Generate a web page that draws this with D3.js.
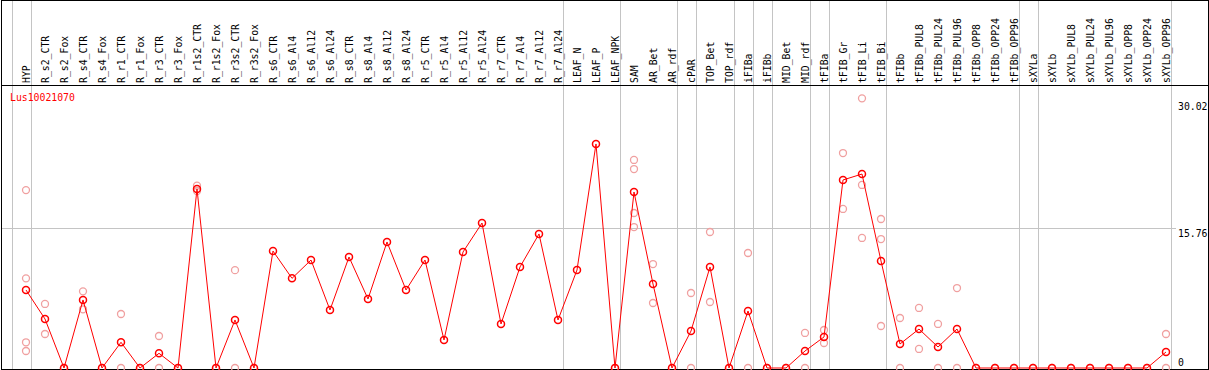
<!DOCTYPE html>
<html><head><meta charset="utf-8">
<script src="https://cdn.jsdelivr.net/npm/d3@7"></script>
<style>
html,body{margin:0;padding:0;background:#fff;}
text{font-family:"DejaVu Sans Mono",monospace;font-size:9.8px;}
</style></head>
<body><svg id="c" width="1209" height="370"></svg>
<script>
const categories = ["HYP","R_s2_CTR","R_s2_Fox","R_s4_CTR","R_s4_Fox","R_r1_CTR","R_r1_Fox","R_r3_CTR","R_r3_Fox","R_r1s2_CTR","R_r1s2_Fox","R_r3s2_CTR","R_r3s2_Fox","R_s6_CTR","R_s6_Al4","R_s6_Al12","R_s6_Al24","R_s8_CTR","R_s8_Al4","R_s8_Al12","R_s8_Al24","R_r5_CTR","R_r5_Al4","R_r5_Al12","R_r5_Al24","R_r7_CTR","R_r7_Al4","R_r7_Al12","R_r7_Al24","LEAF_N","LEAF_P","LEAF_NPK","SAM","AR_Bet","AR_rdf","cPAR","TOP_Bet","TOP_rdf","iFIBa","iFIBb","MID_Bet","MID_rdf","tFIBa","tFIB_Gr","tFIB_Li","tFIB_Bi","tFIBb","tFIBb_PUL8","tFIBb_PUL24","tFIBb_PUL96","tFIBb_OPP8","tFIBb_OPP24","tFIBb_OPP96","sXYLa","sXYLb","sXYLb_PUL8","sXYLb_PUL24","sXYLb_PUL96","sXYLb_OPP8","sXYLb_OPP24","sXYLb_OPP96"];
const means = [8.77,5.51,0,7.65,0,2.89,0,1.65,0,20.13,0,5.4,0,13.15,10.08,12.14,6.52,12.48,7.76,14.17,8.77,12.14,3.15,13.04,16.3,4.95,11.36,15.07,5.4,11.02,25.19,0,19.79,9.44,0,4.16,11.36,0,6.41,0,0,1.91,3.49,21.14,21.81,12.03,2.7,4.38,2.36,4.38,0,0,0,0,0,0,0,0,0,0,1.8];
const replicates = [[20.0,10.08,2.89,1.91],[7.2,3.82],[0],[8.62,6.6],[0],[6.07,0],[0],[3.6,0],[0],[20.5,19.9],[0],[11.0,0],[0],[],[],[],[],[],[],[],[],[],[],[],[],[],[],[],[],[],[],[0],[23.39,22.37,17.43,15.85],[11.69,7.31],[0],[8.43,0],[15.29,7.42],[0],[12.93,0],[0],[0],[3.94,0],[4.27,2.81],[24.17,17.88],[30.32,20.58,14.62],[16.75,14.5,4.72],[5.62,0],[6.75,2.14],[4.95,0],[8.99,0],[0],[0],[0],[0],[0],[0],[0],[0],[0],[0],[3.82,0]];
const groupStarts = ["HYP","R_s2_CTR","LEAF_N","SAM","cPAR","TOP_Bet","iFIBa","iFIBb","MID_Bet","tFIBa","tFIB_Gr","tFIBb","sXYLa","sXYLb"];
const yTicks = [0,15.76,30.02];
const title = "Lus10021070";

const svg = d3.select("#c");
const x = d3.scaleBand().domain(categories).range([16.5, 16.5 + 19*categories.length]).padding(0);
const cx = d => x(d) + x.bandwidth()/2;
const y = d3.scaleLinear().domain([0, 30.02]).range([368, 101]);

// frame
svg.append("rect").attr("x",1.5).attr("y",0.5).attr("width",1207).attr("height",369).attr("fill","none").attr("stroke","#000");
// vertical separators
const seps = groupStarts.map(c => x(c) - 5).concat([x(categories[categories.length-1]) + 14]);
svg.selectAll("line.sep").data(seps).join("line").attr("class","sep")
  .attr("x1",d=>Math.round(d)+0.5).attr("x2",d=>Math.round(d)+0.5).attr("y1",1).attr("y2",369)
  .attr("stroke","#c4c4c4");
// horizontal gridline
svg.selectAll("line.hg").data(yTicks.filter(t=>t>0 && t<30)).join("line").attr("class","hg")
  .attr("x1",2).attr("x2",1176).attr("y1",d=>Math.round(y(d))+0.5).attr("y2",d=>Math.round(y(d))+0.5)
  .attr("stroke","#c4c4c4");
// top axis line
svg.append("line").attr("x1",1).attr("x2",1209).attr("y1",85.5).attr("y2",85.5).attr("stroke","#000");
svg.append("line").attr("x1",1).attr("x2",1209).attr("y1",369.5).attr("y2",369.5).attr("stroke","#000");

// column labels
svg.selectAll("text.cl").data(categories).join("text").attr("class","cl")
  .attr("transform",d=>`translate(${cx(d)+4},83) rotate(-90)`)
  .attr("text-anchor","start").attr("fill","#000").text(d=>d);

// y labels
svg.selectAll("text.yl").data(yTicks).join("text").attr("class","yl")
  .attr("x",1178).attr("y",d=>Math.min(y(d)+9,366)).attr("fill","#000").text(d=>d);

// title
svg.append("text").attr("x",10).attr("y",101).attr("fill","#ff0000").text(title);

// replicates
const reps = [];
categories.forEach((c,i)=>replicates[i].forEach(v=>reps.push({c,v})));
svg.selectAll("circle.rep").data(reps).join("circle").attr("class","rep")
  .attr("cx",d=>cx(d.c)).attr("cy",d=>y(d.v)).attr("r",3.5)
  .attr("fill","none").attr("stroke","#f0a0a0").attr("stroke-width",1.3);

// mean line
const line = d3.line().x((d,i)=>cx(categories[i])).y(d=>y(d));
svg.append("path").datum(means).attr("d",line).attr("fill","none").attr("stroke","#ff0000").attr("stroke-width",1);
svg.selectAll("circle.m").data(means).join("circle").attr("class","m")
  .attr("cx",(d,i)=>cx(categories[i])).attr("cy",d=>y(d)).attr("r",3.5)
  .attr("fill","none").attr("stroke","#ff0000").attr("stroke-width",1.5);
</script></body></html>
